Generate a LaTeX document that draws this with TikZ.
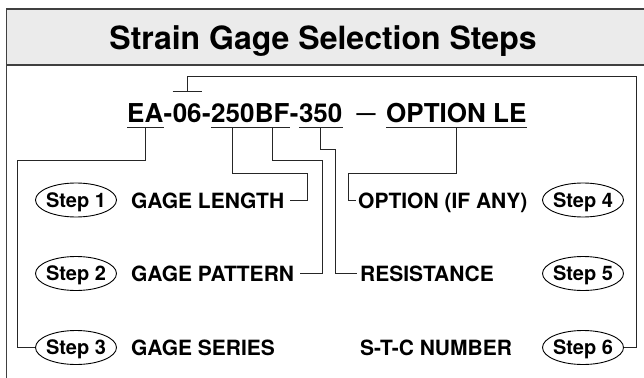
\documentclass[tikz,border=0pt]{standalone}
\usepackage{fontspec}
\setmainfont{TeX Gyre Heros}
\usetikzlibrary{shapes.geometric}
\begin{document}
\begin{tikzpicture}[x=1pt,y=-1pt,
  conn/.style={draw=black!85, line width=1pt},
  pn/.style={inner sep=0pt, anchor=base west, font=\fontsize{26}{30}\selectfont\bfseries},
  lbl/.style={inner sep=0pt, anchor=base west, font=\fontsize{21}{25}\selectfont\bfseries},
  stepoval/.style={ellipse, draw=black, line width=0.9pt, minimum width=81pt, minimum height=34pt, inner sep=0pt},
  steptxt/.style={font=\fontsize{20}{23}\selectfont\bfseries, inner sep=0pt, anchor=base},
]
\useasboundingbox (0,0) rectangle (644,377);
\clip (0,0) rectangle (644,377);
% frame and title band
\fill[black!8] (6.5,9) rectangle (660,65);
\draw[black!75, line width=1.6pt] (660,9) -- (6.5,9) -- (6.5,400);
\draw[black!75, line width=1.2pt] (6.5,65) -- (660,65);
\node[font=\fontsize{32}{38}\selectfont\bfseries, anchor=base, inner sep=0pt] (title) at (323,50) {Strain Gage Selection Steps};
% part number
\node[pn] (ea) at (127,122) {EA};
\node[pn] (d1) at (ea.base east) {-};
\node[pn] (stc) at (d1.base east) {06};
\node[pn] (d2) at (stc.base east) {-};
\node[pn] (len) at (d2.base east) {250};
\node[pn] (pat) at (len.base east) {BF};
\node[pn] (d3) at (pat.base east) {-};
\node[pn] (res) at (d3.base east) {350};
\node[pn, anchor=base, font=\fontsize{19}{22}\selectfont\bfseries] (dash) at (366,119) {—};
\node[pn] (opt) at (386,122) {OPTION LE};
\foreach \n in {ea,len,pat,res,opt}
  \draw[conn] ([yshift=-5pt]\n.base west) -- ([yshift=-5pt]\n.base east);
\draw[conn] ([yshift=11pt]stc.north west) -- ([yshift=11pt]stc.north east);
% labels
\node[lbl] (glen) at (131,208) {GAGE LENGTH};
\node[lbl] (gpat) at (131,281) {GAGE PATTERN};
\node[lbl] (gser) at (131,355) {GAGE SERIES};
\node[lbl] (optl) at (358,208) {OPTION (IF ANY)};
\node[lbl] (resl) at (360,281) {RESISTANCE};
\node[lbl] (stcl) at (360,355) {S-T-C NUMBER};
% step ovals
\node[stepoval] (s1) at (76,200) {};
\node[stepoval] (s2) at (76,273.5) {};
\node[stepoval] (s3) at (76,347.5) {};
\node[stepoval] (s4) at (583,200) {};
\node[stepoval] (s5) at (583,273.5) {};
\node[stepoval] (s6) at (583,347.5) {};
\node[steptxt] at ([yshift=-7pt]s1.center) {Step 1};
\node[steptxt] at ([yshift=-7pt]s2.center) {Step 2};
\node[steptxt] at ([yshift=-7pt]s3.center) {Step 3};
\node[steptxt] at ([yshift=-7pt]s4.center) {Step 4};
\node[steptxt] at ([yshift=-7pt]s5.center) {Step 5};
\node[steptxt] at ([yshift=-7pt]s6.center) {Step 6};
% connectors
\draw[conn] ([yshift=-5pt]ea.base) |- (17,160) |- (s3.west);
\draw[conn] ([yshift=-5pt]len.base) |- (307,173) |- ([xshift=6pt,yshift=8pt]glen.base east);
\draw[conn] ([yshift=-5pt]pat.base) |- (322,160) |- ([xshift=6pt,yshift=8pt]gpat.base east);
\draw[conn] ([yshift=-5pt]res.base) |- (335,149) |- ([xshift=-3pt,yshift=8pt]resl.base west);
\draw[conn] ([yshift=-5pt]opt.base) |- (348,173) |- ([xshift=-2pt,yshift=8pt]optl.base west);
\draw[conn] ([yshift=11pt]stc.north) |- (636,77) |- (s6.east);
\end{tikzpicture}
\end{document}
